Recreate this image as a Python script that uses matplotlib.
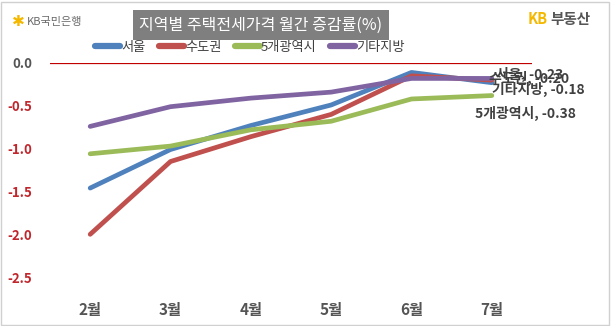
import numpy as np
import matplotlib.pyplot as plt

plt.rcParams['font.family'] = ['Noto Sans CJK KR', 'DejaVu Sans']

months = ['2월', '3월', '4월', '5월', '6월', '7월']
seoul = [-1.46, -1.01, -0.73, -0.49, -0.11, -0.23]
capital = [-2.00, -1.15, -0.86, -0.60, -0.15, -0.20]
metro5 = [-1.06, -0.97, -0.78, -0.68, -0.42, -0.38]
others = [-0.74, -0.51, -0.41, -0.34, -0.18, -0.18]
series_names = ['서울', '수도권', '5개광역시', '기타지방']
yticks = [0.0, -0.5, -1.0, -1.5, -2.0, -2.5]

colors = ['#4F81BD', '#C0504D', '#9BBB59', '#8064A2']
series = [seoul, capital, metro5, others]

fig = plt.figure(figsize=(6.11, 3.26), dpi=100)
ax = fig.add_axes([50 / 611, 1 - 296 / 326, 482 / 611, 233 / 326])

x = np.arange(len(months))
for name, vals, c in zip(series_names, series, colors):
    ax.plot(x, vals, color=c, lw=3.4, label=name, solid_capstyle='round', zorder=3)

ax.axhline(0, color='#C00000', lw=0.9, zorder=2)

ax.set_xlim(-0.5, 5.5)
ax.set_ylim(-2.72, 0.0)
ax.set_yticks(yticks)
ax.set_yticklabels([f'{v:.1f}' for v in yticks], fontsize=9.5, fontweight='bold')
for lbl, v in zip(ax.get_yticklabels(), yticks):
    lbl.set_color('#555555' if v == 0 else '#C0272D')
ax.set_xticks(x)
ax.set_xticklabels(months, fontsize=11, fontweight='bold', color='#555555')
ax.tick_params(length=0, axis='y', pad=13)
ax.tick_params(length=0, axis='x', pad=4)
for s in ax.spines.values():
    s.set_visible(False)

# end-point labels (they overlap in the original too)
offsets = {'서울': (3, 6), '수도권': (-2, 1), '5개광역시': (-12, -13), '기타지방': (0, -8)}
for name, vals in zip(series_names, series):
    dx, dy = offsets[name]
    ax.annotate(f'{name}, {vals[-1]:.2f}', (x[-1], vals[-1]), xytext=(dx, dy),
                textcoords='offset points', fontsize=10, color='#404040',
                fontweight='bold', va='center', ha='left', annotation_clip=False)

leg = fig.legend(loc='center', bbox_to_anchor=(250 / 611, 1 - 47 / 326), ncol=4,
                 frameon=False, fontsize=9.5, handlelength=1.9, handletextpad=0.1,
                 columnspacing=1.0)
for t in leg.get_texts():
    t.set_color('#404040')
for h in leg.legend_handles:
    h.set_linewidth(4.5)

# title box
fig.text(261 / 611, 1 - 25 / 326, '지역별 주택전세가격 월간 증감률(%)', ha='center', va='center',
         fontsize=11.5, color='white',
         bbox=dict(boxstyle='square,pad=0.4', fc='#7F7F7F', ec='none'))

# logos
fig.text(12 / 611, 1 - 22 / 326, '✱', color='#F5B800', fontsize=11, va='center', ha='left')
fig.text(27 / 611, 1 - 22 / 326, 'KB국민은행', color='#6b6b6b', fontsize=8, va='center', ha='left')
fig.text(548 / 611, 1 - 19 / 326, 'KB', color='#F5B800', fontsize=10.5, fontweight='bold',
         va='center', ha='right')
fig.text(550 / 611, 1 - 19 / 326, '부동산', color='#555555', fontsize=10.5, fontweight='bold',
         va='center', ha='left')

# outer frame
fig.patches.append(plt.Rectangle((0.002, 0.003), 0.995, 0.992, transform=fig.transFigure,
                                 fill=False, ec='#D0D0D0', lw=1))

fig.savefig('out.png', dpi=100)
